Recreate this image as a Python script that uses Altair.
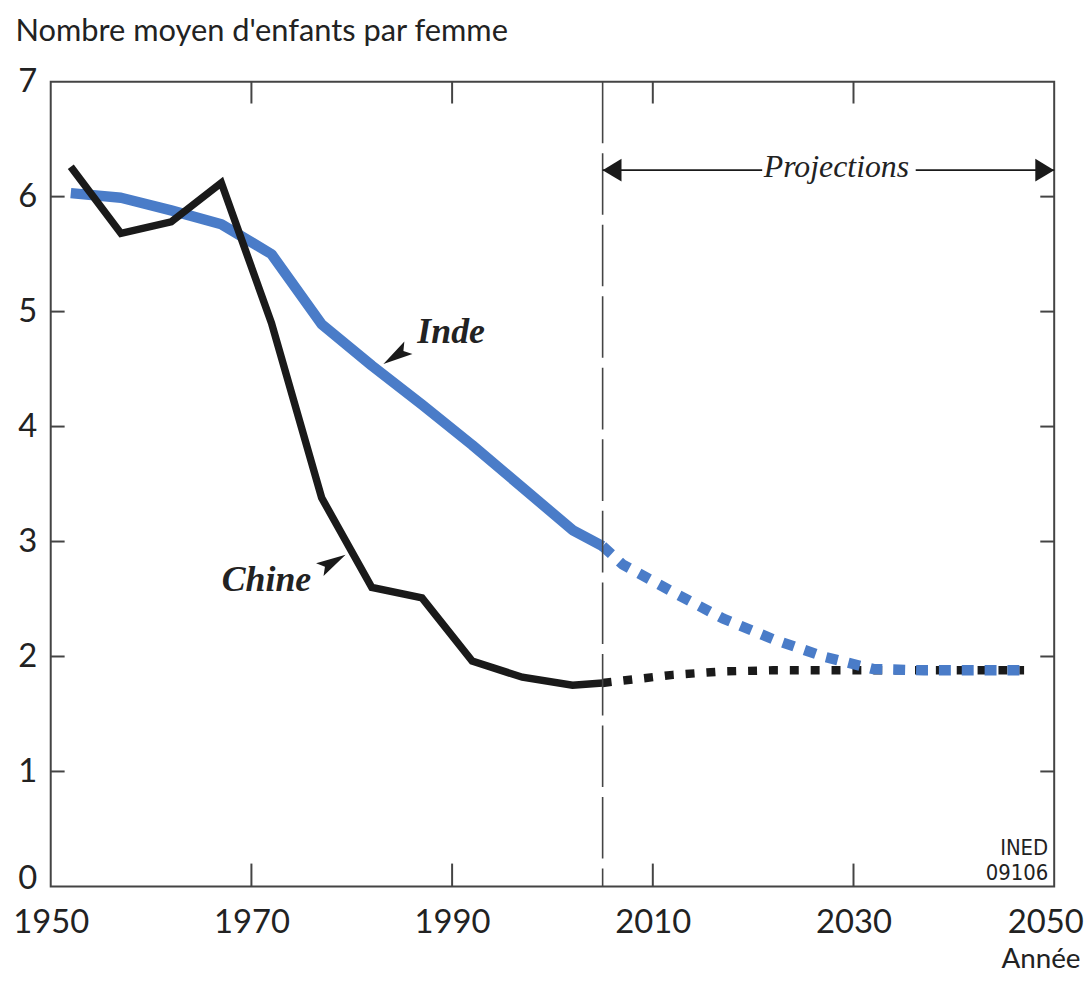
import altair as alt
import pandas as pd

# ---- data ----
hist_years = [1952, 1957, 1962, 1967, 1972, 1977, 1982, 1987, 1992, 1997, 2002, 2005]
china_hist = [6.26, 5.68, 5.78, 6.12, 4.90, 3.38, 2.60, 2.51, 1.96, 1.82, 1.75, 1.77]
india_hist = [6.03, 5.99, 5.88, 5.76, 5.50, 4.89, 4.53, 4.19, 3.84, 3.47, 3.10, 2.96]

proj_years = [2005, 2007, 2012, 2017, 2022, 2027, 2032, 2037, 2042, 2047]
china_proj = [1.77, 1.79, 1.84, 1.87, 1.88, 1.88, 1.88, 1.88, 1.88, 1.88]
india_proj = [2.96, 2.80, 2.56, 2.33, 2.15, 2.00, 1.89, 1.88, 1.88, 1.88]

x_labels = [1950, 1970, 1990, 2010, 2030, 2050]
y_labels = [0, 1, 2, 3, 4, 5, 6, 7]
x_inner_ticks = [1970, 1990, 2010, 2030]
y_inner_ticks = [1, 2, 3, 4, 5, 6]

projection_start = 2005
projection_end = 2050
projection_level = 6.23
projection_text = "Projections"

series_labels = ["Inde", "Chine"]
label_years = [1989.9, 1971.5]
label_values = [4.73, 2.57]
pointer_years = [1984.4, 1978.1]
pointer_values = [4.615, 2.82]
pointer_angles = [147, 330]

# ---- styles ----
BLUE = "#4a7cc8"
BLACK = "#1a1a1a"
FRAME = "#444444"
TEXT = "#222222"
SANS = "Lato"
SERIF = "Liberation Serif"

W, H = 1010, 810

xs = alt.Scale(domain=[1950, 2050], nice=False, zero=False)
ys = alt.Scale(domain=[0, 7], nice=False, zero=True)

X = alt.X("year:Q", scale=xs, title="Année")
Y = alt.Y("v:Q", scale=ys, title="Nombre moyen d'enfants par femme")

df_ch = pd.DataFrame({"year": hist_years, "v": china_hist})
df_in = pd.DataFrame({"year": hist_years, "v": india_hist})
df_chp = pd.DataFrame({"year": proj_years, "v": china_proj})
df_inp = pd.DataFrame({"year": proj_years, "v": india_proj})

x_axis = alt.Axis(
    values=x_labels, format="d", domain=False, ticks=False, grid=False,
    labelFont=SANS, labelFontSize=33, labelColor=TEXT, labelPadding=20,
    labelFlush=False, labelOverlap=False,
    labelOffset={"condition": {"test": "datum.value == 2050", "value": -9}, "value": 0},
    titleFont=SANS, titleFontSize=28, titleFontWeight="normal",
    titleColor=TEXT, titleAlign="right", titleBaseline="alphabetic",
    titleAngle=0, titleX=1036, titleY=82,
)
y_axis = alt.Axis(
    values=y_labels, format="d", domain=False, ticks=False, grid=False,
    labelFont=SANS, labelFontSize=33, labelColor=TEXT, labelPadding=14,
    labelBaseline="middle",
    labelOffset={"condition": {"test": "datum.value == 0", "value": -8}, "value": 0},
    titleFont=SANS, titleFontSize=31,
    titleFontWeight="normal", titleColor=TEXT, titleAngle=0, titleAlign="left",
    titleBaseline="alphabetic", titleX=-36, titleY=-41,
)

# main lines
india_solid = alt.Chart(df_in).mark_line(
    color=BLUE, strokeWidth=10.5, strokeJoin="round", strokeCap="butt"
).encode(x=alt.X("year:Q", scale=xs, axis=x_axis, title="Année"),
         y=alt.Y("v:Q", scale=ys, axis=y_axis, title="Nombre moyen d'enfants par femme"))

china_solid = alt.Chart(df_ch).mark_line(
    color=BLACK, strokeWidth=7.5, strokeJoin="miter", strokeCap="butt"
).encode(x=X, y=Y)

china_dotted = alt.Chart(df_chp).mark_line(
    color=BLACK, strokeWidth=8.5, strokeDash=[9, 12], strokeCap="butt"
).encode(x=X, y=Y)

india_dotted = alt.Chart(df_inp).mark_line(
    color=BLUE, strokeWidth=10.5, strokeDash=[12, 11], strokeCap="butt"
).encode(x=X, y=Y)

# inward ticks on the frame
df_xt = pd.DataFrame({"year": x_inner_ticks})
df_yt = pd.DataFrame({"v": y_inner_ticks})
tick_bottom = alt.Chart(df_xt).mark_rule(color=FRAME, strokeWidth=2).encode(
    x=X, y=alt.value(H), y2=alt.value(H - 23))
tick_top = alt.Chart(df_xt).mark_rule(color=FRAME, strokeWidth=2).encode(
    x=X, y=alt.value(0), y2=alt.value(22))
tick_left = alt.Chart(df_yt).mark_rule(color=FRAME, strokeWidth=2).encode(
    y=Y, x=alt.value(0), x2=alt.value(14))
tick_right = alt.Chart(df_yt).mark_rule(color=FRAME, strokeWidth=2).encode(
    y=Y, x=alt.value(W), x2=alt.value(W - 14))

# projection boundary
vline = alt.Chart(pd.DataFrame({"year": [projection_start]})).mark_rule(
    color=FRAME, strokeWidth=1.6, strokeDash=[62, 10]
).encode(x=X)

# projections arrow
df_arrow = pd.DataFrame({
    "year": [projection_start, 2036.2],
    "year2": [2020.9, projection_end],
    "v": [projection_level, projection_level],
})
arrow_line = alt.Chart(df_arrow).mark_rule(color=BLACK, strokeWidth=1.8).encode(
    x=X, x2="year2:Q", y=Y)
head_left = alt.Chart(pd.DataFrame({"year": [projection_start], "v": [projection_level]})).mark_point(
    shape="M-1,0L1,-1.2L1,1.2Z", filled=True, size=361, color=BLACK, opacity=1,
    strokeWidth=0, xOffset=9.5
).encode(x=X, y=Y)
head_right = alt.Chart(pd.DataFrame({"year": [projection_end], "v": [projection_level]})).mark_point(
    shape="M1,0L-1,-1.2L-1,1.2Z", filled=True, size=361, color=BLACK, opacity=1,
    strokeWidth=0, xOffset=-9.5
).encode(x=X, y=Y)
proj_label = alt.Chart(pd.DataFrame({"year": [2028.3], "v": [6.17], "t": [projection_text]})).mark_text(
    font=SERIF, fontStyle="italic", fontSize=32, color=TEXT, align="center",
    baseline="alphabetic"
).encode(x=X, y=Y, text="t:N")

# series labels with pointers
df_lab = pd.DataFrame({"year": label_years, "v": label_values, "t": series_labels})
series_text = alt.Chart(df_lab).mark_text(
    font=SERIF, fontStyle="italic", fontWeight="bold", fontSize=36, color=TEXT,
    align="center", baseline="alphabetic"
).encode(x=X, y=Y, text="t:N")

df_ptr = pd.DataFrame({"year": pointer_years, "v": pointer_values, "a": pointer_angles})
pointers = alt.Chart(df_ptr).mark_point(
    shape="M1,0L-1,-0.5L-0.6,0L-1,0.5Z", filled=True, size=900, color=BLACK,
    opacity=1, strokeWidth=0
).encode(x=X, y=Y, angle=alt.Angle("a:Q", scale=None))

# INED reference
df_ined = pd.DataFrame({"year": [2049.4, 2049.4], "v": [0.277, 0.06], "t": ["INED", "09106"]})
ined = alt.Chart(df_ined).mark_text(
    font="Liberation Sans Narrow, DejaVu Sans Condensed, Arial Narrow, sans-serif",
    fontSize=22, color=TEXT, align="right", baseline="alphabetic"
).encode(x=X, y=Y, text="t:N")

chart = alt.layer(
    india_solid, tick_bottom, tick_top, tick_left, tick_right,
    china_solid, china_dotted, india_dotted, vline,
    arrow_line, head_left, head_right, proj_label,
    series_text, pointers, ined,
).properties(
    width=W, height=H,
    padding={"left": 43, "top": 71, "right": 30, "bottom": 84},
    autosize=alt.AutoSizeParams(type="none"),
    background="white",
).configure_view(stroke=FRAME, strokeWidth=2)

chart.save("out.html", embed_options={"renderer": "svg", "actions": False})
